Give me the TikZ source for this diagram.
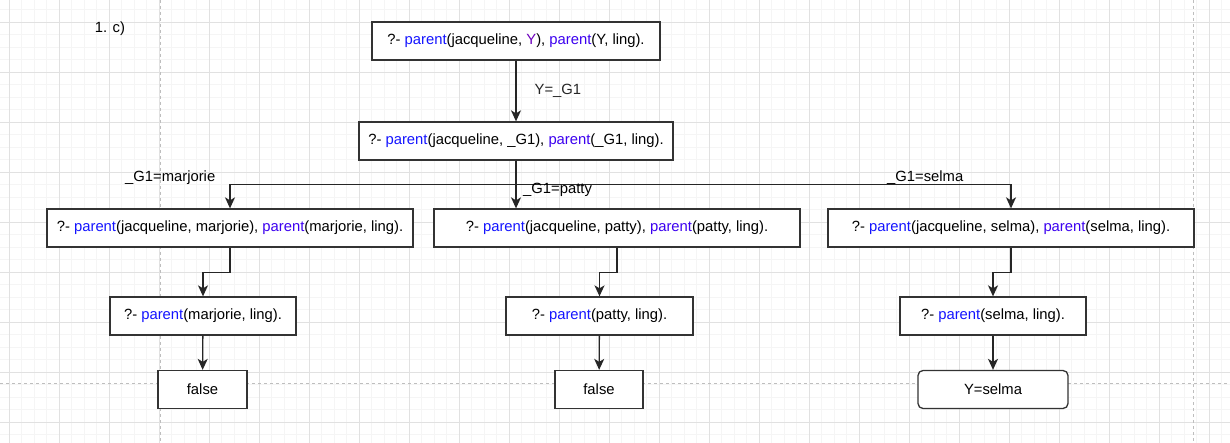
\documentclass[tikz,border=0pt]{standalone}
\usepackage{fontspec}
\setmainfont{Liberation Sans}
\usetikzlibrary{arrows.meta}
\definecolor{predblue}{RGB}{20,20,255}
\definecolor{predviolet}{RGB}{60,0,240}
\definecolor{varpurple}{RGB}{110,0,190}
\definecolor{gridminor}{RGB}{245,245,245}
\definecolor{gridmajor}{RGB}{225,225,225}
\definecolor{pagebreak}{RGB}{190,190,190}
\newcommand{\predA}{\textcolor{predblue}{parent}}
\newcommand{\predB}{\textcolor{predviolet}{parent}}
\tikzset{
    goalbox/.style={draw=black!80, fill=white, line width=1.3pt, inner sep=0pt, minimum height=38pt, font=\fontsize{14.8}{17}\selectfont},
    link/.style={-{Stealth[length=11pt,width=10pt,inset=3pt]}, line width=1.3pt, black!85},
    lbl/.style={inner sep=0pt, font=\fontsize{14.8}{17}\selectfont}
}
\begin{document}
\begin{tikzpicture}[x=1pt, y=-1pt]
    \useasboundingbox[fill=white] (0,0) rectangle (1230,443);
    % grid
    \foreach \x in {-3.5,9,...,1230} \draw[gridminor, line width=0.8pt] (\x,0) -- (\x,443);
    \foreach \y in {-3,9.5,...,443} \draw[gridminor, line width=0.8pt] (0,\y) -- (1230,\y);
    \foreach \x in {9,59,...,1230} \draw[gridmajor, line width=0.8pt] (\x,0) -- (\x,443);
    \foreach \y in {22,72,...,443} \draw[gridmajor, line width=0.8pt] (0,\y) -- (1230,\y);
    \draw[pagebreak, dashed, line width=0.8pt] (160,0) -- (160,443);
    \draw[pagebreak, dashed, line width=0.8pt] (1193,0) -- (1193,443);
    \draw[pagebreak, dashed, line width=0.8pt] (0,383) -- (1230,383);

    \node[lbl] (title) at (110,29) {1. c)};

    \node[goalbox, minimum width=288pt] (goal) at (516,41) {?- \predA(jacqueline, \textcolor{varpurple}{Y}), \predB(Y, ling).};
    \node[goalbox, minimum width=314pt] (conj) at (516,141) {?- \predA(jacqueline, \_G1), \predB(\_G1, ling).};

    \node[goalbox, minimum width=366pt] (mar) at (230,228) {?- \predA(jacqueline, marjorie), \predB(marjorie, ling).};
    \node[goalbox, minimum width=366pt] (pat) at (617,228) {?- \predA(jacqueline, patty), \predB(patty, ling).};
    \node[goalbox, minimum width=366pt] (sel) at (1011,228) {?- \predA(jacqueline, selma), \predB(selma, ling).};

    \node[goalbox, minimum width=186pt] (marL) at (203,316) {?- \predA(marjorie, ling).};
    \node[goalbox, minimum width=187pt] (patL) at (599.5,316) {?- \predA(patty, ling).};
    \node[goalbox, minimum width=186pt] (selL) at (993,316) {?- \predA(selma, ling).};

    \node[goalbox, minimum width=89pt] (marF) at (202.5,389.5) {false};
    \node[goalbox, minimum width=88pt] (patF) at (599,389.5) {false};
    \node[goalbox, minimum width=150pt, rounded corners=5pt] (selY) at (993,389.5) {Y=selma};

    \coordinate (split) at (516,184.5);

    \draw[link] (goal) -- node[lbl, anchor=west, xshift=18pt] (bindY) {Y=\_G1} (conj);
    \draw[link] (conj.south) -- (split) -| (mar.north);
    \draw[link] (conj.south) -- (split) -| (sel.north);
    \draw[link] (conj.south) -- (conj.south |- pat.north);
    \node[lbl, anchor=west] (bindM) at (125,178) {\_G1=marjorie};
    \node[lbl, anchor=west] (bindP) at (523,190) {\_G1=patty};
    \node[lbl, anchor=west] (bindS) at (887,177.5) {\_G1=selma};

    \draw[link] (mar.south) -- ++(0,25) -| (marL.north);
    \draw[link] (pat.south) -- ++(0,25) -| (patL.north);
    \draw[link] (sel.south) -- ++(0,25) -| (selL.north);

    \draw[link] (marL) -- (marF);
    \draw[link] (patL) -- (patF);
    \draw[link] (selL) -- (selY);
\end{tikzpicture}
\end{document}
